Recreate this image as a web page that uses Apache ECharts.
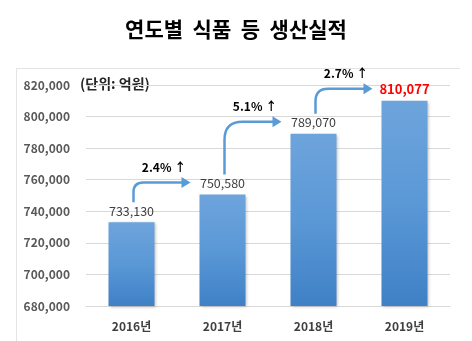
<!DOCTYPE html>
<html>
<head>
<meta charset="utf-8">
<script src="https://cdn.jsdelivr.net/npm/echarts@6/dist/echarts.min.js"></script>
<style>
html,body{margin:0;padding:0;background:#fff;}
#c{width:472px;height:341px;}
</style>
</head>
<body>
<div id="c"></div>
<script>
const years = ['2016년', '2017년', '2018년', '2019년'];
const production = [733130, 750580, 789070, 810077];
const growthLabels = ['2.4% ↑', '5.1% ↑', '2.7% ↑'];
const yTicks = [680000, 700000, 720000, 740000, 760000, 780000, 800000, 820000];

const FONT = '"Noto Sans CJK KR", "Noto Sans", sans-serif';
const fmt = v => Number(v).toLocaleString('en-US');
const last = production.length - 1;

const arrowData = [];
for (let i = 0; i < production.length - 1; i++) {
  arrowData.push([i, production[i], production[i + 1]]);
}

const chart = echarts.init(document.getElementById('c'), null, {renderer: 'canvas'});
chart.setOption({
  animation: false,
  backgroundColor: '#fff',
  textStyle: {fontFamily: FONT},
  title: {
    text: '연도별  식품  등  생산실적',
    left: 'center',
    top: 14,
    textStyle: {fontFamily: FONT, fontSize: 21, fontWeight: 'bold', color: '#000'}
  },
  graphic: [
    {type: 'line', shape: {x1: 16, y1: 68.5, x2: 460, y2: 68.5}, style: {stroke: '#e4e4e4', lineWidth: 1}},
    {type: 'line', shape: {x1: 16.5, y1: 68, x2: 16.5, y2: 341}, style: {stroke: '#e4e4e4', lineWidth: 1}},
    {type: 'text', left: 80, top: 77, style: {text: '(단위: 억원)', font: 'bold 14px ' + FONT, fill: '#262626'}}
  ],
  grid: {left: 86, right: 22, top: 85, bottom: 35},
  xAxis: {
    type: 'category',
    data: years,
    axisLine: {lineStyle: {color: '#d9d9d9'}},
    axisTick: {show: false},
    axisLabel: {color: '#404040', fontWeight: 'bold', fontSize: 12, margin: 14, fontFamily: FONT}
  },
  yAxis: {
    type: 'value',
    min: yTicks[0],
    max: yTicks[yTicks.length - 1],
    interval: yTicks[1] - yTicks[0],
    axisLine: {show: false},
    axisTick: {show: false},
    splitLine: {lineStyle: {color: '#d9d9d9'}},
    axisLabel: {color: '#595959', fontWeight: 'bold', fontSize: 12, margin: 16, fontFamily: FONT, formatter: v => fmt(v)}
  },
  series: [
    {
      type: 'bar',
      barWidth: 46,
      data: production.map((v, i) => i === last ? {
        value: v,
        label: {color: '#ff0000', fontWeight: 'bold', fontSize: 13}
      } : v),
      itemStyle: {
        color: new echarts.graphic.LinearGradient(0, 0, 0, 1, [
          {offset: 0, color: '#6ea4dc'},
          {offset: 0.5, color: '#5a98d6'},
          {offset: 1, color: '#3f80c6'}
        ]),
        shadowBlur: 3,
        shadowColor: 'rgba(0,0,0,0.25)',
        shadowOffsetX: 1,
        shadowOffsetY: 1
      },
      label: {
        show: true,
        position: 'top',
        distance: 5,
        color: '#404040',
        fontSize: 12.5,
        fontFamily: FONT,
        formatter: p => fmt(p.value)
      },
      z: 2
    },
    {
      type: 'custom',
      data: arrowData,
      clip: false,
      z: 5,
      silent: true,
      encode: {x: 0, y: 1},
      renderItem: function (params, api) {
        const i = api.value(0);
        const p0 = api.coord([i, api.value(1)]);
        const p1 = api.coord([i + 1, api.value(2)]);
        const sx = p0[0] + 2;
        const sy = p0[1] - 20;
        const ly = p1[1] - 12;
        const tx = p1[0] - 32;
        const r = Math.min(18, (sy - ly) * 0.5);
        const headLen = 9;
        const path = 'M' + sx + ' ' + sy + ' L' + sx + ' ' + (ly + r) +
          ' Q' + sx + ' ' + ly + ' ' + (sx + r) + ' ' + ly +
          ' L' + (tx - headLen + 1) + ' ' + ly;
        return {
          type: 'group',
          children: [
            {type: 'path', shape: {pathData: path}, style: {fill: null, stroke: '#5b9bd5', lineWidth: 2.5}},
            {type: 'polygon', shape: {points: [[tx - headLen, ly - 5.5], [tx, ly], [tx - headLen, ly + 5.5]]}, style: {fill: '#5b9bd5'}},
            {type: 'text', style: {
              text: growthLabels[params.dataIndex],
              x: (sx + tx) / 2 + 2,
              y: ly - 15,
              align: 'center',
              verticalAlign: 'middle',
              font: 'bold 12px ' + FONT,
              fill: '#000'
            }}
          ]
        };
      }
    }
  ]
});
</script>
</body>
</html>
